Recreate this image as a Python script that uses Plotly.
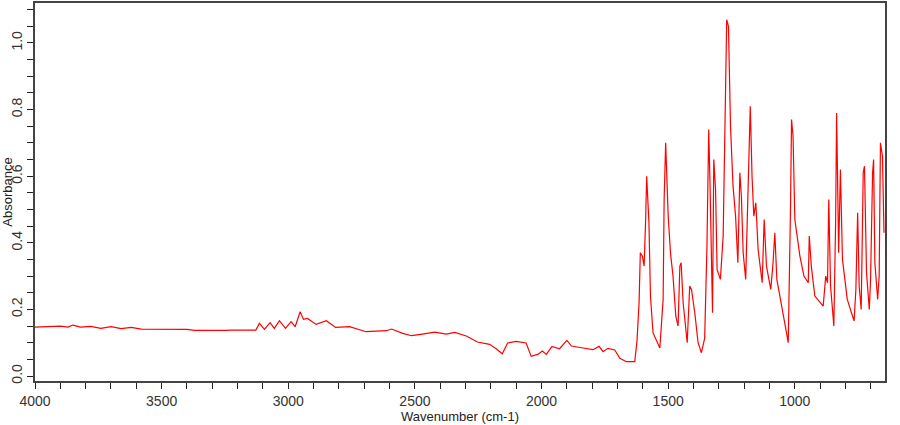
import plotly.graph_objects as go

wavenumber = [4000,3960,3900,3870,3850,3820,3780,3740,3700,3660,3620,3580,3500,3400,3370,3300,3240,
 3232,3128,3114,3094,3072,3055,3035,3011,2989,2973,2953,2940,2924,2890,2850,2813,2758,2693,2613,2592,2548,
 2514,2470,2422,2376,2343,2297,2253,2205,2179,2155,2134,2100,2061,2041,2015,1997,1981,1959,1929,1900,1882,
 1836,1797,1773,1757,1738,1711,1691,1665,1632,1623,
 1615,1610,1602,1595,1589,1585,1576,1570,1560,1547,1533,1520,1516,1510,1500,1491,1481,1470,1461,1454,1449,
 1441,1425,1415,1408,1395,1382,1369,1356,1347,1340,1335,1325,1320,1313,1307,1294,1283,1274,1269,1262,1254,
 1244,1234,1225,1217,1211,1204,1194,1183,1176,1169,1162,1154,1145,1129,1121,1112,1105,1095,1086,1079,1071,
 1059,1043,1026,1017,1013,1007,1000,980,964,947,943,935,921,888,878,871,866,859,846,839,835,827,820,812,
 793,766,759,752,746,738,730,725,717,706,701,693,689,684,673,667,662,654,648]
absorbance = [0.147,0.148,0.150,0.147,0.153,0.147,0.149,0.143,0.148,0.142,0.146,0.141,0.140,0.140,0.137,0.136,0.137,
 0.138,0.138,0.158,0.140,0.160,0.143,0.166,0.143,0.163,0.148,0.193,0.170,0.173,0.155,0.166,0.146,0.148,0.133,0.136,0.141,0.128,
 0.121,0.126,0.132,0.126,0.131,0.120,0.102,0.095,0.082,0.067,0.099,0.104,0.099,0.059,0.065,0.075,0.065,0.089,0.082,0.107,0.090,
 0.084,0.079,0.089,0.073,0.083,0.078,0.053,0.043,0.043,0.107,
 0.22,0.37,0.36,0.33,0.47,0.60,0.46,0.24,0.13,0.11,0.084,0.23,0.53,0.70,0.48,0.37,0.30,0.18,0.15,0.33,0.34,
 0.22,0.10,0.27,0.26,0.19,0.10,0.07,0.113,0.39,0.74,0.58,0.19,0.65,0.56,0.32,0.29,0.42,0.83,1.07,1.05,0.75,
 0.57,0.48,0.34,0.61,0.54,0.37,0.29,0.66,0.81,0.60,0.48,0.52,0.38,0.28,0.47,0.33,0.30,0.26,0.34,0.43,0.29,
 0.24,0.17,0.10,0.51,0.77,0.72,0.47,0.36,0.30,0.28,0.42,0.33,0.24,0.21,0.30,0.28,0.53,0.27,0.15,0.46,0.79,0.37,0.62,0.35,
 0.23,0.165,0.26,0.49,0.27,0.20,0.61,0.63,0.31,0.20,0.29,0.61,0.65,0.34,0.23,0.30,0.70,0.66,0.43]

fig = go.Figure(go.Scatter(x=wavenumber, y=absorbance, mode="lines",
                           line=dict(color="#ff0000", width=1.2), showlegend=False))
axis_common = dict(showline=True, linecolor="#444444", linewidth=1.5, mirror=True, automargin=False,
                   ticks="outside", ticklen=6, tickcolor="#222222", showgrid=False, zeroline=False,
                   tickfont=dict(size=14, color="#333333"))
fig.update_xaxes(range=[4000, 644], dtick=500, tick0=0,
                 minor=dict(ticks="outside", ticklen=6, dtick=100, tickcolor="#222222"),
                 title=dict(text="Wavenumber (cm-1)", font=dict(size=13, color="#222222"), standoff=0),
                 **axis_common)
fig.update_yaxes(range=[-0.015, 1.12], dtick=0.2, tick0=0, tickformat=".1f", tickangle=-90,
                 minor=dict(ticks="outside", ticklen=6, dtick=0.05, tickcolor="#222222"),
                 title=dict(text="Absorbance", font=dict(size=13, color="#222222"), standoff=0),
                 **axis_common)
fig.update_layout(width=900, height=425, margin=dict(l=35, r=15, t=3, b=44),
                  plot_bgcolor="white", paper_bgcolor="white",
                  font=dict(family="Liberation Sans, Arial, sans-serif"))
fig.write_html("out.html", config={"displayModeBar": False},
               post_script="document.body.style.margin='0';")
